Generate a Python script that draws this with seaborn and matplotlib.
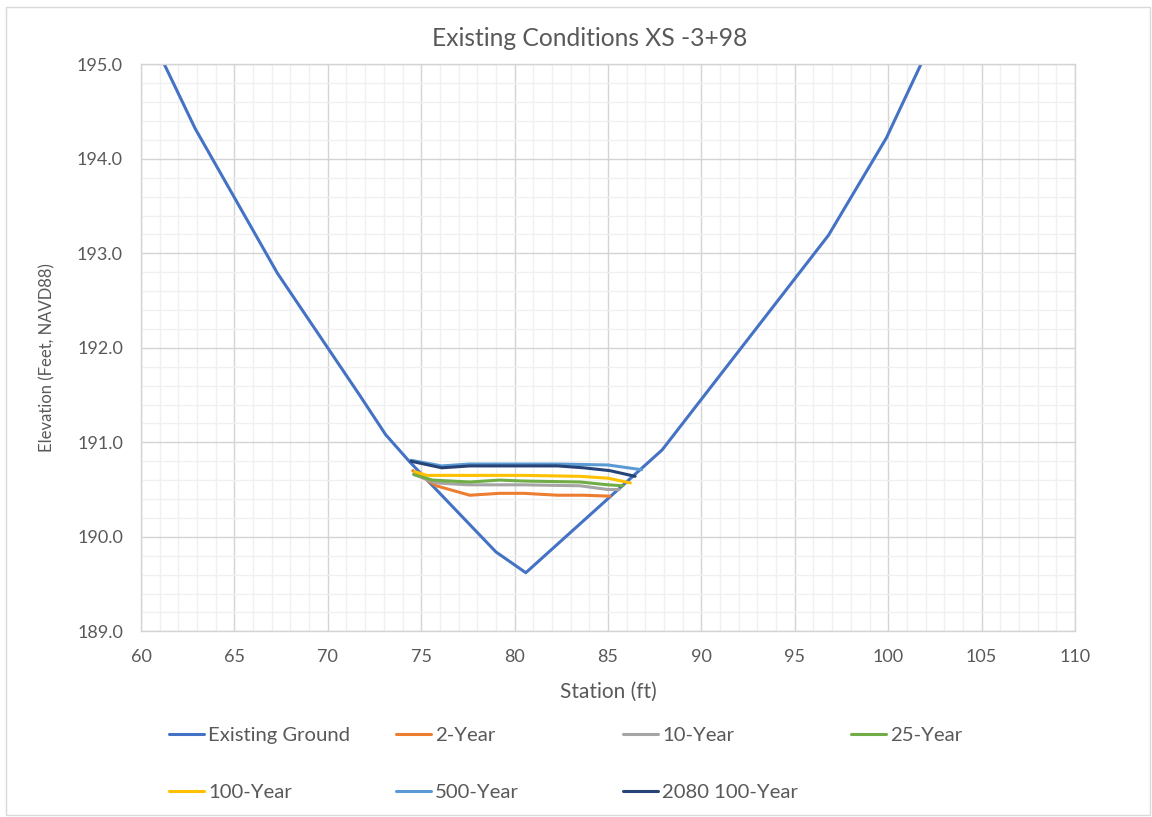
import matplotlib
matplotlib.use("Agg")
import matplotlib.pyplot as plt
from matplotlib.lines import Line2D
from matplotlib.patches import Rectangle
from matplotlib.ticker import MultipleLocator
import seaborn as sns
import pandas as pd

# Cross-section ground profile
ground_sta = [61.2, 62.9, 67.3, 71.7, 73.1, 74.4, 79.0, 80.6, 87.9, 96.8, 99.9, 101.8]
ground_elev = [195.02, 194.32, 192.79, 191.50, 191.08, 190.79, 189.84, 189.62, 190.92, 193.19, 194.22, 195.02]

# Water surface profiles
yr2_sta = [74.55, 75.8, 77.6, 79.2, 80.5, 82.3, 83.7, 85.1]
yr2_elev = [190.70, 190.54, 190.44, 190.46, 190.46, 190.44, 190.44, 190.43]

yr10_sta = [74.6, 75.8, 77.5, 80.5, 83.5, 85.0, 85.6]
yr10_elev = [190.66, 190.57, 190.55, 190.55, 190.54, 190.50, 190.50]

yr25_sta = [74.6, 75.6, 77.6, 79.2, 80.5, 83.5, 85.0, 85.8]
yr25_elev = [190.66, 190.60, 190.58, 190.60, 190.59, 190.58, 190.55, 190.54]

yr100_sta = [74.65, 75.3, 77.6, 80.5, 83.5, 85.0, 86.2]
yr100_elev = [190.69, 190.65, 190.65, 190.65, 190.64, 190.62, 190.57]

yr500_sta = [74.45, 76.1, 77.6, 80.5, 82.3, 85.0, 86.8]
yr500_elev = [190.81, 190.75, 190.77, 190.77, 190.77, 190.76, 190.71]

yr2080_sta = [74.45, 76.1, 77.6, 80.5, 82.3, 83.7, 85.1, 86.45]
yr2080_elev = [190.80, 190.73, 190.75, 190.75, 190.75, 190.73, 190.70, 190.64]

series_names = ["Existing Ground", "2-Year", "10-Year", "25-Year",
                "100-Year", "500-Year", "2080 100-Year"]
series_colors = ["#4472C4", "#ED7D31", "#A5A5A5", "#70AD47",
                 "#FFC000", "#5B9BD5", "#264478"]

profiles = [(ground_sta, ground_elev), (yr2_sta, yr2_elev), (yr10_sta, yr10_elev),
            (yr25_sta, yr25_elev), (yr100_sta, yr100_elev), (yr500_sta, yr500_elev),
            (yr2080_sta, yr2080_elev)]

rows = []
for name, (sta, elev) in zip(series_names, profiles):
    for i, (s, e) in enumerate(zip(sta, elev)):
        rows.append({"series": name, "order": i, "station": s, "elevation": e})
df = pd.DataFrame(rows)

sns.set_theme(style="white")
plt.rcParams["font.family"] = ["Lato", "DejaVu Sans"]

text_gray = "#595959"
fig = plt.figure(figsize=(11.52, 8.17), dpi=100)
ax = fig.add_axes([141 / 1152, 1 - 631.3 / 817, 934 / 1152, 567 / 817])

palette = dict(zip(series_names, series_colors))
sns.lineplot(data=df, x="station", y="elevation", hue="series",
             hue_order=series_names, palette=palette, units="series",
             estimator=None, sort=False, legend=False, linewidth=2.2, ax=ax)

ax.set_xlim(60, 110)
ax.set_ylim(189, 195)
ax.xaxis.set_major_locator(MultipleLocator(5))
ax.xaxis.set_minor_locator(MultipleLocator(1))
ax.yaxis.set_major_locator(MultipleLocator(1))
ax.yaxis.set_minor_locator(MultipleLocator(0.2))
ax.yaxis.set_major_formatter(matplotlib.ticker.FormatStrFormatter("%.1f"))
ax.grid(which="major", color="#D4D4D4", linewidth=1.0)
ax.grid(which="minor", color="#F0F0F0", linewidth=1.0)
ax.set_axisbelow(True)
for sp in ax.spines.values():
    sp.set_color("#D4D4D4")
    sp.set_linewidth(1.0)
ax.tick_params(which="both", length=0, colors=text_gray, labelsize=13, pad=13)

ax.set_xlabel("Station (ft)", fontsize=15, color=text_gray)
ax.xaxis.set_label_coords(0.5, (631.3 - 692) / 567)
ax.xaxis.label.set_va("center")
ax.set_ylabel("Elevation (Feet, NAVD88)", fontsize=12, color=text_gray)
ax.yaxis.set_label_coords((47 - 141) / 934, (631.3 - 358) / 567)
ax.yaxis.label.set_va("center")

fig.text(590 / 1152, 1 - 38 / 817, "Existing Conditions XS -3+98",
         fontsize=17.7, color=text_gray, ha="center", va="center")

# Legend entries laid out in two rows of four evenly spaced columns
legend_pos = [(169, 735), (396, 735), (623, 735), (851, 735),
              (169, 792), (396, 792), (623, 792)]
for name, color, (px, py) in zip(series_names, series_colors, legend_pos):
    h = Line2D([], [], color=color, linewidth=2.2)
    fig.legend([h], [name], loc="center left",
               bbox_to_anchor=(px / 1152, 1 - py / 817), frameon=False,
               borderaxespad=0, borderpad=0, handlelength=1.75,
               handletextpad=0.18, fontsize=14.6, labelcolor=text_gray)

# Chart area border
fig.patches.append(Rectangle((6 / 1152, 0.002), 1 - 8 / 1152, 1 - 7 / 817 - 0.002,
                             transform=fig.transFigure, fill=False,
                             edgecolor="#D9D9D9", linewidth=1.0))

fig.savefig("out.png", dpi=100, facecolor="white")
